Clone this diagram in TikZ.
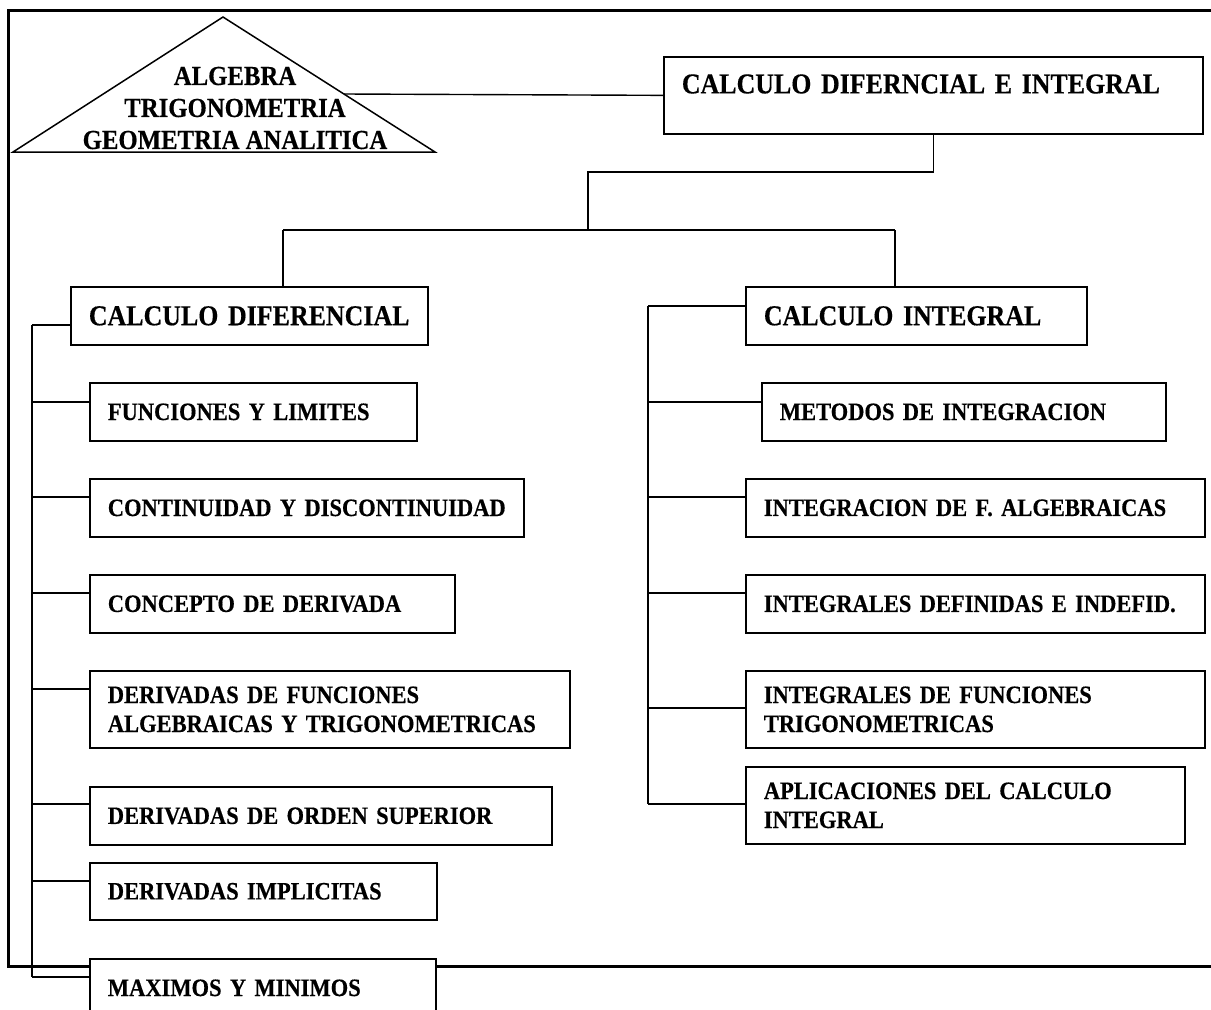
\documentclass[tikz,border=0pt]{standalone}
\usepackage{fontspec}
\setmainfont{Liberation Serif}[FakeStretch=0.9, BoldFeatures={FakeBold=0.4}]
\usetikzlibrary{positioning}

\begin{document}
\begin{tikzpicture}[x=1pt,y=-1pt]
                    \tikzstyle{every node}+=[inner sep=0pt]
                    \tikzstyle{box}=[draw, fill=white, line width=1.7pt, anchor=north west, align=left, inner xsep=18pt, inner ysep=0pt]
                    \tikzstyle{item}=[box, font=\fontsize{25}{29}\selectfont\bfseries]
                    \tikzstyle{head}=[box, font=\fontsize{28.8}{32}\selectfont\bfseries]
                    \tikzstyle{conn}=[line width=1.4pt]
                    \useasboundingbox (0,0) rectangle (1211,1010);
                    \draw [line width=3pt] (1211,10) -- (8,10) -- (8,966) -- (1211,966);
                    \draw [line width=1.5pt] (13,152) -- (223,17) -- (435,152) -- cycle;
                    \node [align=center, font=\fontsize{27.5}{32}\selectfont\bfseries] (alg) at (235,108) {ALGEBRA\\TRIGONOMETRIA\\GEOMETRIA ANALITICA};
                    \coordinate (triR) at (344,94);
                    \node [head, text width=503pt, minimum height=77pt, text depth=23pt] (top) at (663,56) {CALCULO DIFERNCIAL E INTEGRAL};
                    \node [head, text width=321pt, minimum height=58pt] (dif) at (70,286) {CALCULO DIFERENCIAL};
                    \node [head, text width=305pt, minimum height=58pt] (int) at (745,286) {CALCULO INTEGRAL};
                    \node [item, text width=291pt, minimum height=58pt] (fun) at (89,382) {FUNCIONES Y LIMITES};
                    \node [item, text width=398pt, minimum height=58pt] (con) at (89,478) {CONTINUIDAD Y DISCONTINUIDAD};
                    \node [item, text width=329pt, minimum height=58pt] (cpt) at (89,574) {CONCEPTO DE DERIVADA};
                    \node [item, text width=444pt, minimum height=77pt] (dfa) at (89,670) {DERIVADAS DE FUNCIONES\\ALGEBRAICAS Y TRIGONOMETRICAS};
                    \node [item, text width=426pt, minimum height=58pt] (dos) at (89,786) {DERIVADAS DE ORDEN SUPERIOR};
                    \node [item, text width=311pt, minimum height=57pt] (dim) at (89,862) {DERIVADAS IMPLICITAS};
                    \node [item, text width=310pt, minimum height=58pt] (max) at (89,958) {MAXIMOS Y MINIMOS};
                    \node [item, text width=368pt, minimum height=58pt] (met) at (761,382) {METODOS DE INTEGRACION};
                    \node [item, text width=423pt, minimum height=58pt] (ifa) at (745,478) {INTEGRACION DE F. ALGEBRAICAS};
                    \node [item, text width=423pt, minimum height=58pt] (ide) at (745,574) {INTEGRALES DEFINIDAS E INDEFID.};
                    \node [item, text width=423pt, minimum height=77pt] (ift) at (745,670) {INTEGRALES DE FUNCIONES\\TRIGONOMETRICAS};
                    \node [item, text width=403pt, minimum height=77pt] (apl) at (745,766) {APLICACIONES DEL CALCULO\\INTEGRAL};
                    \draw [conn] (triR) -- (top.west);
                    \coordinate (jM) at (588,172);
                    \coordinate (jL) at (283,230);
                    \coordinate (jR) at (895,230);
                    \draw [conn] (top.south) |- (jM) -- (jM |- jL);
                    \draw [conn] (jL) -- (jR);
                    \draw [conn] (jL) -- (jL |- dif.north);
                    \draw [conn] (jR) -- (jR |- int.north);
                    \coordinate (trunkL) at (32,0);
                    \coordinate (trunkR) at (648,0);
                    \foreach \n/\d in {dif/39,fun/20,con/19,cpt/19,dfa/19,dos/18,dim/19,max/19}
                        \draw [conn] ([yshift=-\d pt]\n.north west) coordinate (b\n) -- (b\n -| trunkL);
                    \draw [conn] (bdif -| trunkL) -- (bmax -| trunkL);
                    \foreach \n/\d in {int/20,met/20,ifa/19,ide/19,ift/38,apl/38}
                        \draw [conn] ([yshift=-\d pt]\n.north west) coordinate (b\n) -- (b\n -| trunkR);
                    \draw [conn] (bint -| trunkR) -- (bapl -| trunkR);
\end{tikzpicture}
\end{document}
